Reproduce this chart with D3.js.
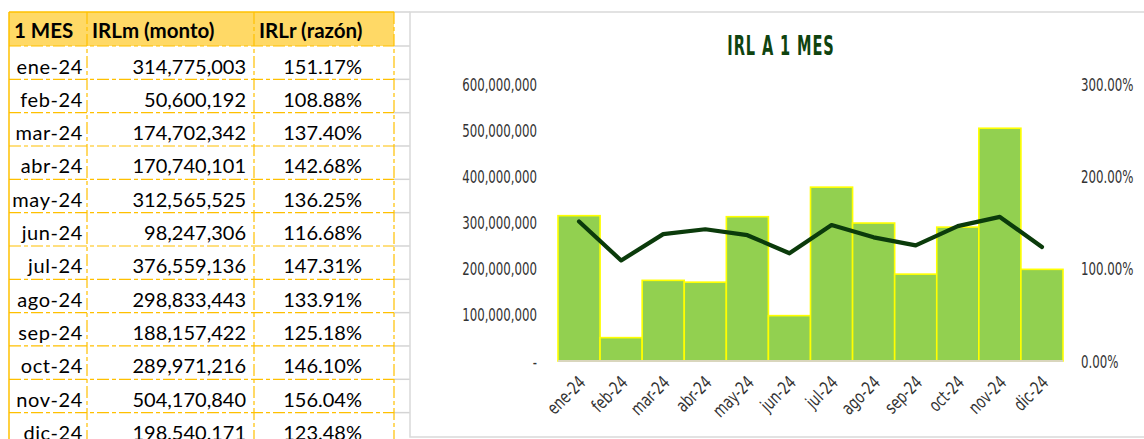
<!DOCTYPE html>
<html>
<head>
<meta charset="utf-8">
<script src="https://cdn.jsdelivr.net/npm/d3@7"></script>
<style>
  body { margin: 0; background: #fff; }
  svg { display: block; }
</style>
</head>
<body>
<div id="chart"></div>
<script>
// data read from the sheet
var months = ["ene-24", "feb-24", "mar-24", "abr-24", "may-24", "jun-24",
              "jul-24", "ago-24", "sep-24", "oct-24", "nov-24", "dic-24"];
var monto = [314775003, 50600192, 174702342, 170740101, 312565525, 98247306,
             376559136, 298833443, 188157422, 289971216, 504170840, 198540171];
var razon = [151.17, 108.88, 137.40, 142.68, 136.25, 116.68,
             147.31, 133.91, 125.18, 146.10, 156.04, 123.48];
var headers = ["1 MES", "IRLm (monto)", "IRLr (razón)"];
var leftTicks = [0, 100000000, 200000000, 300000000, 400000000, 500000000, 600000000];
var rightTicks = [0, 100, 200, 300];
var chartTitle = "IRL A 1 MES";

var W = 1144, H = 439;
var svg = d3.select("#chart").append("svg")
  .attr("width", W).attr("height", H);

// ---------- table (left) ----------
var colX = [9, 87, 254, 394];
var headTop = 12, headH = 34, rowH = 33.33;
var tableFont = "Lato, 'Open Sans', sans-serif";
var gold = "#FFC000";
var fmtNum = d3.format(",");
var fmtPct = function(v) { return d3.format(".2f")(v) + "%"; };

var table = svg.append("g");

// header fill
table.append("rect")
  .attr("x", colX[0]).attr("y", headTop)
  .attr("width", colX[3] - colX[0]).attr("height", headH)
  .attr("fill", "#FFD966");

// gray excel gridlines to the right of the table
var rowLines = d3.range(months.length + 1).map(function(i) { return headTop + headH + i * rowH; });
table.selectAll("line.grid").data([headTop].concat(rowLines)).enter().append("line")
  .attr("x1", colX[3]).attr("x2", 410)
  .attr("y1", function(d) { return d; }).attr("y2", function(d) { return d; })
  .attr("stroke", "#d4d4d4").attr("stroke-width", 1.5);

// dashed horizontal borders between rows
table.selectAll("line.hrow").data(rowLines).enter().append("line")
  .attr("x1", colX[0]).attr("x2", colX[3])
  .attr("y1", function(d) { return d; }).attr("y2", function(d) { return d; })
  .attr("stroke", gold).attr("stroke-width", 1.2)
  .attr("stroke-dasharray", "12,3,4,3");

// dashed vertical dividers
table.selectAll("line.vcol").data(colX.slice(1)).enter().append("line")
  .attr("x1", function(d) { return d; }).attr("x2", function(d) { return d; })
  .attr("y1", headTop).attr("y2", H)
  .attr("stroke", gold).attr("stroke-width", 1.2)
  .attr("stroke-dasharray", "12,3,4,3");

// solid outer top + left
table.append("line").attr("x1", colX[0]).attr("x2", colX[3])
  .attr("y1", headTop).attr("y2", headTop)
  .attr("stroke", gold).attr("stroke-width", 1.5);
table.append("line").attr("x1", colX[0]).attr("x2", colX[0])
  .attr("y1", headTop).attr("y2", H)
  .attr("stroke", gold).attr("stroke-width", 1.5);

// header text
table.selectAll("text.head").data(headers).enter().append("text")
  .attr("x", function(d, i) { return colX[i] + 5; })
  .attr("y", headTop + 26)
  .attr("font-family", tableFont).attr("font-weight", "bold")
  .attr("font-size", 20.5).attr("fill", "#000")
  .text(function(d) { return d; });

// body rows
var rows = table.selectAll("g.row").data(months).enter().append("g")
  .attr("transform", function(d, i) { return "translate(0," + (headTop + headH + i * rowH) + ")"; })
  .attr("font-family", tableFont).attr("font-size", 20).attr("fill", "#000");

rows.append("text").attr("x", colX[1] - 4).attr("y", 27.5)
  .attr("text-anchor", "end").attr("letter-spacing", 0.6)
  .text(function(d) { return d; });
rows.append("text").attr("x", colX[2] - 8).attr("y", 27.5)
  .attr("text-anchor", "end").text(function(d, i) { return fmtNum(monto[i]); });
rows.append("text").attr("x", 362).attr("y", 27.5)
  .attr("text-anchor", "end").text(function(d, i) { return fmtPct(razon[i]); });

// ---------- chart (right) ----------
var box = { left: 410, top: 12, right: 1150, bottom: 437 };
svg.append("rect")
  .attr("x", box.left).attr("y", box.top)
  .attr("width", box.right - box.left).attr("height", box.bottom - box.top)
  .attr("fill", "#fff").attr("stroke", "#d9d9d9").attr("stroke-width", 1.5);

var plot = { left: 558, right: 1063, top: 84, bottom: 361 };
var condFont = "'DejaVu Sans Condensed', 'DejaVu Sans', sans-serif";
var squeeze = 0.77;

var x = d3.scaleBand().domain(months).range([plot.left, plot.right]).padding(0);
var yL = d3.scaleLinear().domain([0, 600000000]).range([plot.bottom, plot.top]);
var yR = d3.scaleLinear().domain([0, 300]).range([plot.bottom, plot.top]);

// title
svg.append("text")
  .attr("transform", "translate(781,55) scale(0.6,1)")
  .attr("text-anchor", "middle")
  .attr("font-family", condFont).attr("font-weight", "bold")
  .attr("font-size", 27).attr("letter-spacing", 1.5).attr("fill", "#0f430f")
  .text(chartTitle);

// bars
svg.append("g").selectAll("rect").data(monto).enter().append("rect")
  .attr("x", function(d, i) { return x(months[i]); })
  .attr("y", function(d) { return yL(d); })
  .attr("width", x.bandwidth())
  .attr("height", function(d) { return yL(0) - yL(d); })
  .attr("fill", "#92D050")
  .attr("stroke", "#FFFF00").attr("stroke-width", 1.6);

// category axis line
svg.append("line")
  .attr("x1", plot.left).attr("x2", plot.right)
  .attr("y1", yL(0)).attr("y2", yL(0))
  .attr("stroke", "#d9d6bd").attr("stroke-width", 2);

// ratio line
var line = d3.line()
  .x(function(d, i) { return x(months[i]) + x.bandwidth() / 2; })
  .y(function(d) { return yR(d); });
svg.append("path").datum(razon)
  .attr("d", line)
  .attr("fill", "none").attr("stroke", "#0b3b0b")
  .attr("stroke-width", 4.2)
  .attr("stroke-linejoin", "round").attr("stroke-linecap", "round");

// left axis
var axL = svg.append("g").attr("transform", "translate(" + plot.left + ",0)")
  .call(d3.axisLeft(yL).tickValues(leftTicks).tickSize(0)
    .tickFormat(function(d) { return d === 0 ? "-" : fmtNum(d); }));
axL.select(".domain").remove();
axL.selectAll("text")
  .attr("x", -21 / squeeze).attr("dy", "0.36em")
  .attr("transform", "scale(" + squeeze + ",1)")
  .attr("font-family", condFont).attr("font-size", 17).attr("fill", "#333");

// right axis
var axR = svg.append("g").attr("transform", "translate(" + plot.right + ",0)")
  .call(d3.axisRight(yR).tickValues(rightTicks).tickSize(0)
    .tickFormat(function(d) { return fmtPct(d); }));
axR.select(".domain").remove();
axR.selectAll("text")
  .attr("x", 18 / squeeze).attr("dy", "0.36em")
  .attr("transform", "scale(" + squeeze + ",1)")
  .attr("font-family", condFont).attr("font-size", 17).attr("fill", "#333");

// bottom axis, rotated labels
var axB = svg.append("g").attr("transform", "translate(0," + plot.bottom + ")")
  .call(d3.axisBottom(x).tickSize(0));
axB.select(".domain").remove();
axB.selectAll("text")
  .attr("x", 0).attr("y", 0).attr("dy", "0.36em")
  .attr("text-anchor", "end")
  .attr("transform", "translate(3,18) rotate(-45) scale(0.8,1)")
  .attr("font-family", condFont).attr("font-size", 18).attr("fill", "#333");
</script>
</body>
</html>
